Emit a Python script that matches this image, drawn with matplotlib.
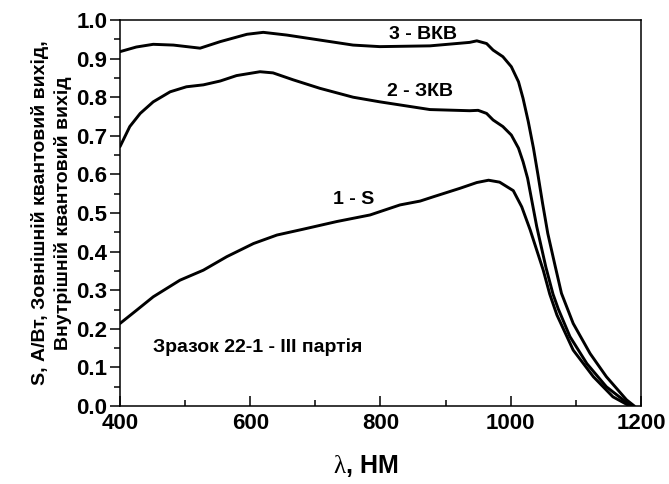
import matplotlib
matplotlib.use("Agg")
import matplotlib.pyplot as plt
from matplotlib.ticker import MultipleLocator, FormatStrFormatter

plt.rcParams['font.family'] = ['Liberation Sans', 'DejaVu Sans']
plt.rcParams['mathtext.fontset'] = 'custom'
plt.rcParams['mathtext.rm'] = 'Liberation Serif'

# Curve 1 - S
wl1 = [400, 426, 451, 492, 528, 564, 605, 641, 681, 733, 784, 830, 861, 881, 922, 948, 966, 983,
       1004, 1017, 1030, 1040, 1050, 1060, 1071, 1096, 1127, 1157, 1183]
s1 = [0.214, 0.249, 0.283, 0.326, 0.352, 0.387, 0.421, 0.443, 0.458, 0.478, 0.495, 0.521, 0.531,
      0.542, 0.564, 0.579, 0.585, 0.580, 0.558, 0.516, 0.456, 0.404, 0.352, 0.290, 0.236, 0.145,
      0.076, 0.024, 0.0]

# Curve 2 - ЗКВ
wl2 = [400, 415, 431, 451, 477, 502, 528, 554, 579, 615, 635, 666, 707, 758, 799, 876, 937, 950,
       963, 973, 988, 1001, 1012, 1019, 1026, 1040, 1054, 1065, 1073, 1091, 1117, 1147, 1185]
s2 = [0.672, 0.724, 0.758, 0.788, 0.814, 0.827, 0.832, 0.842, 0.856, 0.866, 0.863, 0.845, 0.823,
      0.800, 0.788, 0.768, 0.765, 0.766, 0.758, 0.741, 0.724, 0.702, 0.668, 0.633, 0.590, 0.465,
      0.360, 0.290, 0.252, 0.180, 0.110, 0.050, 0.0]

# Curve 3 - ВКВ
wl3 = [400, 425, 451, 482, 523, 554, 595, 620, 656, 707, 758, 799, 876, 937, 948, 963, 973, 988,
       1001, 1012, 1019, 1027, 1035, 1042, 1049, 1057, 1068, 1078, 1096, 1122, 1147, 1178, 1190]
s3 = [0.918, 0.930, 0.937, 0.935, 0.927, 0.944, 0.963, 0.968, 0.961, 0.948, 0.935, 0.931, 0.933,
      0.942, 0.946, 0.939, 0.922, 0.905, 0.879, 0.840, 0.797, 0.737, 0.668, 0.598, 0.525, 0.447,
      0.365, 0.292, 0.214, 0.136, 0.076, 0.016, 0.0]

labels = ['1 - S', '2 - ЗКВ', '3 - ВКВ']
label_pos = [(759, 0.513), (861, 0.793), (866, 0.94)]

fig = plt.figure(figsize=(6.69, 4.84), dpi=100)
ax = fig.add_axes([0.1794, 0.161, 0.958 - 0.1794, 0.9587 - 0.161])

for wl, s in [(wl1, s1), (wl2, s2), (wl3, s3)]:
    ax.plot(wl, s, color='black', lw=2.1, solid_joinstyle='round', solid_capstyle='round')

ax.set_xlim(400, 1200)
ax.set_ylim(0, 1.0)
ax.xaxis.set_major_locator(MultipleLocator(200))
ax.xaxis.set_minor_locator(MultipleLocator(100))
ax.yaxis.set_major_locator(MultipleLocator(0.1))
ax.yaxis.set_minor_locator(MultipleLocator(0.05))
ax.yaxis.set_major_formatter(FormatStrFormatter('%.1f'))

for sp in ax.spines.values():
    sp.set_linewidth(1.1)

ax.tick_params(axis='y', which='major', direction='out', length=7, width=1.1, labelsize=16, pad=2)
ax.tick_params(axis='y', which='minor', direction='out', length=4, width=1.1)
ax.tick_params(axis='x', which='major', direction='in', length=7, width=1.1, labelsize=16, pad=5)
ax.tick_params(axis='x', which='minor', direction='in', length=4, width=1.1)
for lab in ax.get_xticklabels() + ax.get_yticklabels():
    lab.set_fontweight('bold')

ax.set_xlabel(r'$\mathrm{λ}$, НМ', fontsize=18, fontweight='bold', labelpad=14)
ax.xaxis.label.set_x(0.472)
ax.set_ylabel('S, А/Вт, Зовнішній квантовий вихід,\nВнутрішній квантовий вихід',
              fontsize=14, fontweight='bold', labelpad=3, linespacing=1.35)

for txt, (lx, ly) in zip(labels, label_pos):
    ax.text(lx, ly, txt, fontsize=14, fontweight='bold', ha='center', va='bottom')
ax.text(451, 0.152, 'Зразок 22-1 - III партія', fontsize=14, fontweight='bold', ha='left', va='center')

fig.savefig('out.png', dpi=100)
